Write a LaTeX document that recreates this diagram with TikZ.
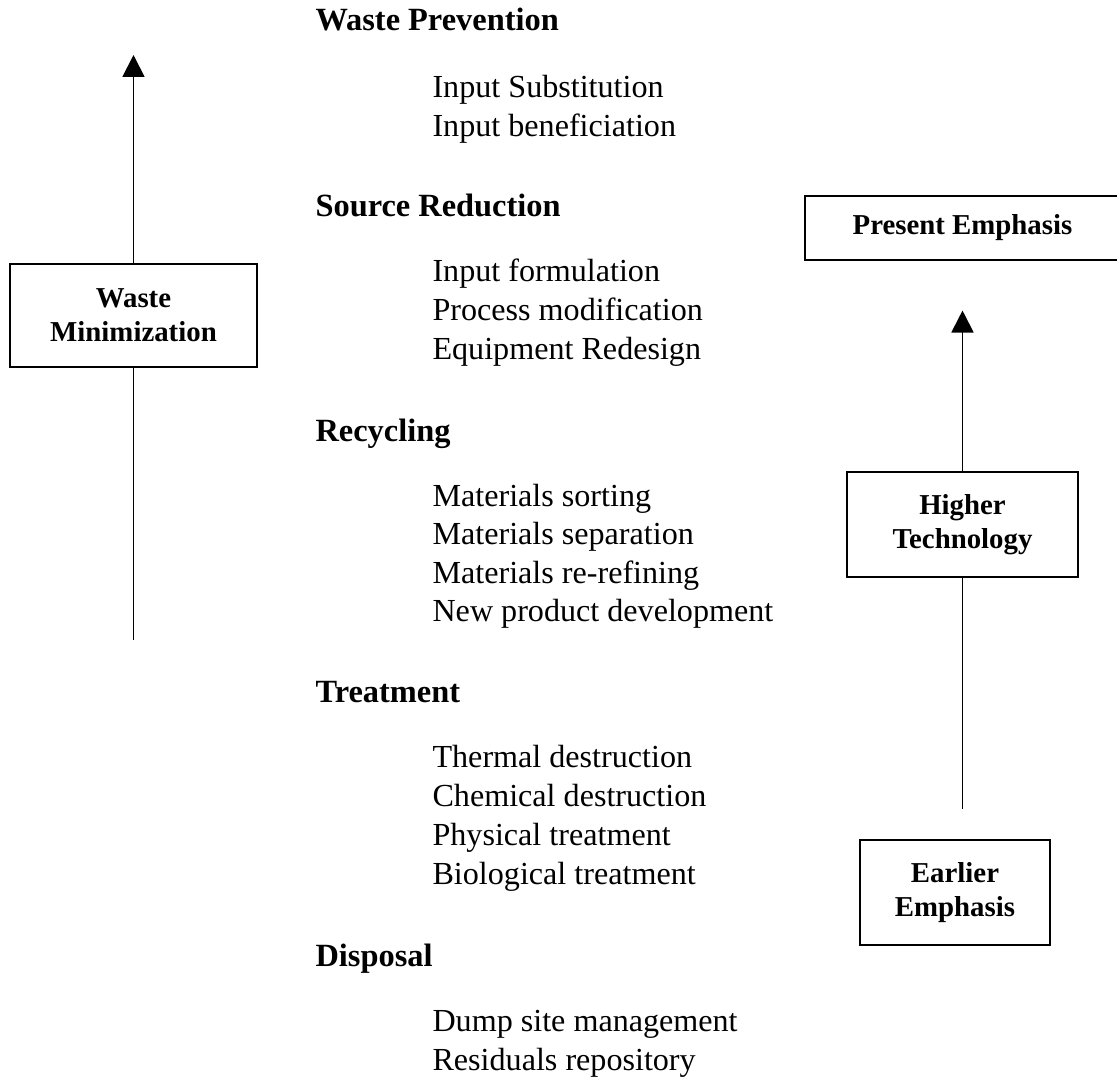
\documentclass[tikz,border=0pt]{standalone}
\usepackage{fontspec}
\setmainfont{Liberation Serif}
\usetikzlibrary{arrows.meta}

\begin{document}
\begin{tikzpicture}[x=0.0128cm, y=-0.0128cm,
    heading/.style={anchor=base west, inner sep=0pt, font=\fontsize{11.8}{14}\selectfont\bfseries},
    entry/.style={anchor=base west, inner sep=0pt, font=\fontsize{11.7}{14}\selectfont},
    labelbox/.style={draw, line width=0.8pt, align=center, inner sep=0pt,
      font=\fontsize{10.5}{12.4}\selectfont\bfseries},
    uparrow/.style={line width=0.7pt, -{Triangle[width=8pt, length=8pt]}}]
  \useasboundingbox (0, 0) rectangle (1117, 1079);

  % the five levels
  \node [heading] (wp) at (315, 30) {Waste Prevention};
  \node [entry] (wp1) at (432, 97) {Input Substitution};
  \node [entry] (wp2) at (432, 136) {Input beneficiation};

  \node [heading] (sr) at (315, 216) {Source Reduction};
  \node [entry] (sr1) at (432, 281) {Input formulation};
  \node [entry] (sr2) at (432, 320) {Process modification};
  \node [entry] (sr3) at (432, 359) {Equipment Redesign};

  \node [heading] (rc) at (315, 441) {Recycling};
  \node [entry] (rc1) at (432, 506) {Materials sorting};
  \node [entry] (rc2) at (432, 544) {Materials separation};
  \node [entry] (rc3) at (432, 583) {Materials re-refining};
  \node [entry] (rc4) at (432, 621) {New product development};

  \node [heading] (tr) at (315, 702) {Treatment};
  \node [entry] (tr1) at (432, 767) {Thermal destruction};
  \node [entry] (tr2) at (432, 806) {Chemical destruction};
  \node [entry] (tr3) at (432, 845) {Physical treatment};
  \node [entry] (tr4) at (432, 884) {Biological treatment};

  \node [heading] (dp) at (315, 966) {Disposal};
  \node [entry] (dp1) at (432, 1031) {Dump site management};
  \node [entry] (dp2) at (432, 1070) {Residuals repository};

  % left axis
  \node [labelbox, minimum width=3.16cm, minimum height=1.32cm] (wastemin) at (133.5, 315.5)
    {Waste\\Minimization};
  \coordinate (wmtop) at (133.5, 55);
  \coordinate (wmbot) at (133.5, 640);
  \draw [line width=0.7pt] (wmbot) -- (wastemin.south);
  \draw [uparrow] (wastemin.north) -- (wmtop);

  % right axis
  \node [labelbox, minimum width=4.03cm, minimum height=0.82cm] (present) at (962.5, 228)
    {Present Emphasis};
  \node [labelbox, minimum width=2.96cm, minimum height=1.344cm] (highertech) at (962.5, 524.5)
    {Higher\\Technology};
  \node [labelbox, minimum width=2.43cm, minimum height=1.344cm] (earlier) at (955, 892.5)
    {Earlier\\Emphasis};
  \draw [uparrow, shorten >=18] (highertech.north) -- (present.south);
  \draw [line width=0.7pt, shorten >=11] (highertech.south) -- (highertech.south |- earlier.north);
\end{tikzpicture}
\end{document}
